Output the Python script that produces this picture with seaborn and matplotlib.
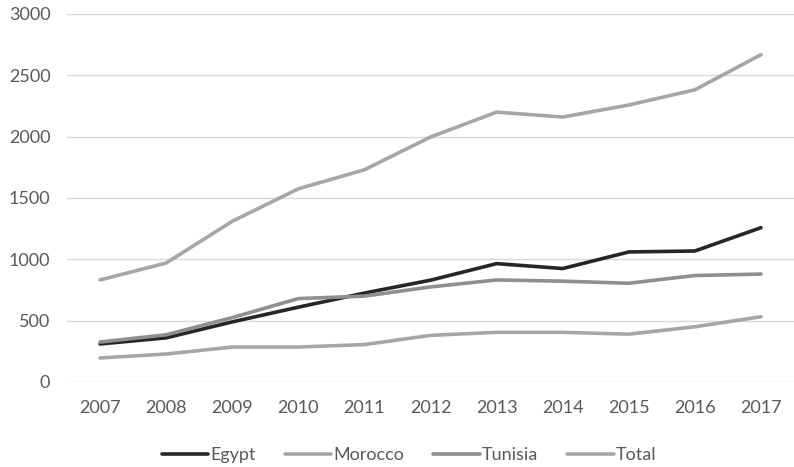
import pandas as pd
import seaborn as sns
import matplotlib.pyplot as plt

# values
years = [2007, 2008, 2009, 2010, 2011, 2012, 2013, 2014, 2015, 2016, 2017]
egypt = [310, 360, 490, 610, 725, 830, 965, 925, 1060, 1068, 1258]
morocco = [196, 228, 285, 285, 305, 380, 405, 405, 390, 450, 532]
tunisia = [326, 385, 525, 680, 700, 775, 832, 822, 805, 868, 880]
total = [832, 970, 1310, 1575, 1730, 1997, 2200, 2160, 2258, 2382, 2668]

series = ['Egypt', 'Morocco', 'Tunisia', 'Total']
colors = ['#262626', '#a6a6a6', '#8f8f8f', '#a6a6a6']

df = pd.DataFrame({'year': [str(y) for y in years] * 4,
                   'pos': list(range(len(years))) * 4,
                   'value': egypt + morocco + tunisia + total,
                   'country': [s for s in series for _ in years]})

sns.set_style('white')
plt.rcParams['font.family'] = ['Lato', 'DejaVu Sans']

fig = plt.figure(figsize=(7.94, 4.67), dpi=100)
ax = fig.add_axes([67 / 794, 1 - 382 / 467, 727 / 794, 368 / 467])

sns.lineplot(data=df, x='pos', y='value', hue='country', palette=colors,
             linewidth=2.6, ax=ax, legend=False)

ax.set_xlim(-0.5, len(years) - 0.5)
ax.set_ylim(0, 3000)
ax.set_xticks(range(len(years)))
ax.set_xticklabels(years)
ax.set_yticks(range(0, 3001, 500))
ax.yaxis.grid(True, color='#d9d9d9', linewidth=1)
ax.set_axisbelow(True)
for side in ['top', 'right', 'left', 'bottom']:
    ax.spines[side].set_visible(False)
ax.tick_params(axis='both', length=0, labelsize=13, labelcolor='#595959')
ax.tick_params(axis='x', pad=13)
ax.tick_params(axis='y', pad=12)
ax.set_xlabel('')
ax.set_ylabel('')

handles = [plt.Line2D([], [], color=c, linewidth=2.6) for c in colors]
fig.legend(handles, series, loc='center', bbox_to_anchor=(0.515, 1 - 455 / 467),
           ncol=4, frameon=False, handlelength=2.6, handletextpad=0.1,
           columnspacing=1.6, fontsize=13, labelcolor='#595959')

fig.savefig('out.png', dpi=100)
